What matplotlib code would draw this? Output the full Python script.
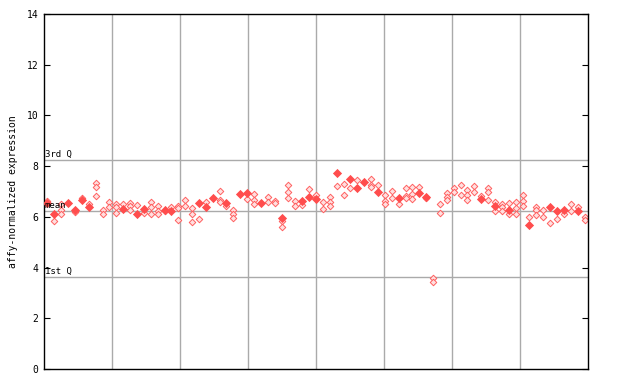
import matplotlib
matplotlib.use('Agg')
import matplotlib.pyplot as plt

# one entry per sample column; filled = highlighted replicate, hollow = other replicates
filled = [6.53, 6.11, None, 6.55, 6.27, 6.66, 6.40, None, None, None,
          None, 6.30, None, 6.12, 6.30, None, None, 6.27, 6.24, None,
          None, None, 6.55, 6.40, 6.75, None, 6.55, None, 6.92, 6.96,
          None, 6.53, None, None, 5.94, None, None, 6.63, 6.79, 6.70,
          None, None, 7.73, None, 7.48, 7.14, 7.38, None, 6.99, None,
          None, 6.75, None, None, 6.95, 6.79, None, None, None, None,
          None, None, None, 6.70, None, 6.44, None, 6.27, None, None,
          5.68, None, None, 6.40, 6.24, 6.29, None, 6.24, None]
hollow = [[6.62], [5.83], [6.50, 6.29, 6.10], [], [6.21], [6.76], [6.50], [7.35, 7.16, 6.82], [6.29, 6.11], [6.57, 6.40],
          [6.50, 6.40, 6.17], [6.50], [6.55, 6.44, 6.29], [6.46], [6.17], [6.59, 6.40, 6.11], [6.42, 6.24, 6.11], [6.22], [6.40], [6.44, 6.36, 5.87],
          [6.66, 6.42], [6.33, 6.13, 5.78], [5.91], [6.57], [], [7.01, 6.66, 6.57], [6.42], [6.29, 6.13, 5.94], [], [6.72],
          [6.92, 6.66, 6.50], [], [6.79, 6.57], [6.62, 6.53], [5.85, 5.61], [7.24, 7.00, 6.76], [6.63, 6.44], [6.46], [7.08], [6.86],
          [6.57, 6.30], [6.79, 6.59, 6.44], [7.21], [7.31, 6.88], [7.12], [7.45], [], [7.51, 7.27, 7.16], [7.25], [6.88, 6.63, 6.49],
          [7.03, 6.76], [6.50], [7.12, 6.83, 6.76], [7.16, 6.89, 6.70], [7.16], [6.74], [3.58, 3.45], [6.49, 6.17], [6.95, 6.79, 6.66], [7.12, 6.99],
          [7.25, 6.88], [7.05, 6.86, 6.66], [7.22, 6.99], [6.82], [7.12, 6.99, 6.68], [6.57, 6.23], [6.50, 6.40, 6.24], [6.53, 6.13], [6.59, 6.33, 6.11], [6.86, 6.62, 6.44],
          [5.98], [6.37, 6.27, 6.07], [6.27, 6.00], [5.74], [5.91], [6.13], [6.50, 6.24], [6.37], [6.00, 5.87]]

q3 = 8.24
mean = 6.23
q1 = 3.63
y_ticks = [0, 2, 4, 6, 8, 10, 12, 14]
n_groups = 8

fig = plt.figure(figsize=(6.4, 3.84), dpi=100)
ax = fig.add_axes([44 / 640, 15 / 384, 544 / 640, 355 / 384])

n = len(filled)
ax.set_xlim(-0.5, n - 0.5)
ax.set_ylim(0, 14)

# group separators
for k in range(1, n_groups):
    ax.axvline(-0.5 + n * k / n_groups, color='#aaaaaa', linewidth=1, zorder=1)

# quartile / mean lines
grey = '#aaaaaa'
for val, lab in [(q3, '3rd Q'), (mean, 'mean'), (q1, '1st Q')]:
    ax.axhline(val, color=grey, linewidth=1, zorder=1)
    ax.text(0.001, val + 0.05, lab, transform=ax.get_yaxis_transform(),
            fontsize=6.5, family='DejaVu Sans Mono', va='bottom', ha='left', zorder=4)

hx, hy = [], []
for i, vals in enumerate(hollow):
    for v in vals:
        hx.append(i)
        hy.append(v)
ax.scatter(hx, hy, marker='D', s=11, facecolor='#ffe0e0', edgecolor='#ff6060',
           linewidths=0.7, zorder=2)

fx = [i for i, v in enumerate(filled) if v is not None]
fy = [v for v in filled if v is not None]
ax.scatter(fx, fy, marker='D', s=22, color='#ff4d4d', linewidths=0, zorder=3)

ax.set_yticks(y_ticks)
ax.set_yticklabels([str(t) for t in y_ticks], family='DejaVu Sans Mono', fontsize=7)
ax.set_xticks([])
ax.tick_params(axis='y', direction='in', length=4, width=0.8, right=True, pad=4)
for s in ax.spines.values():
    s.set_linewidth(1)
ax.set_ylabel('affy-normalized expression', family='DejaVu Sans Mono', fontsize=7, labelpad=6)

fig.savefig('out.png', dpi=100)
